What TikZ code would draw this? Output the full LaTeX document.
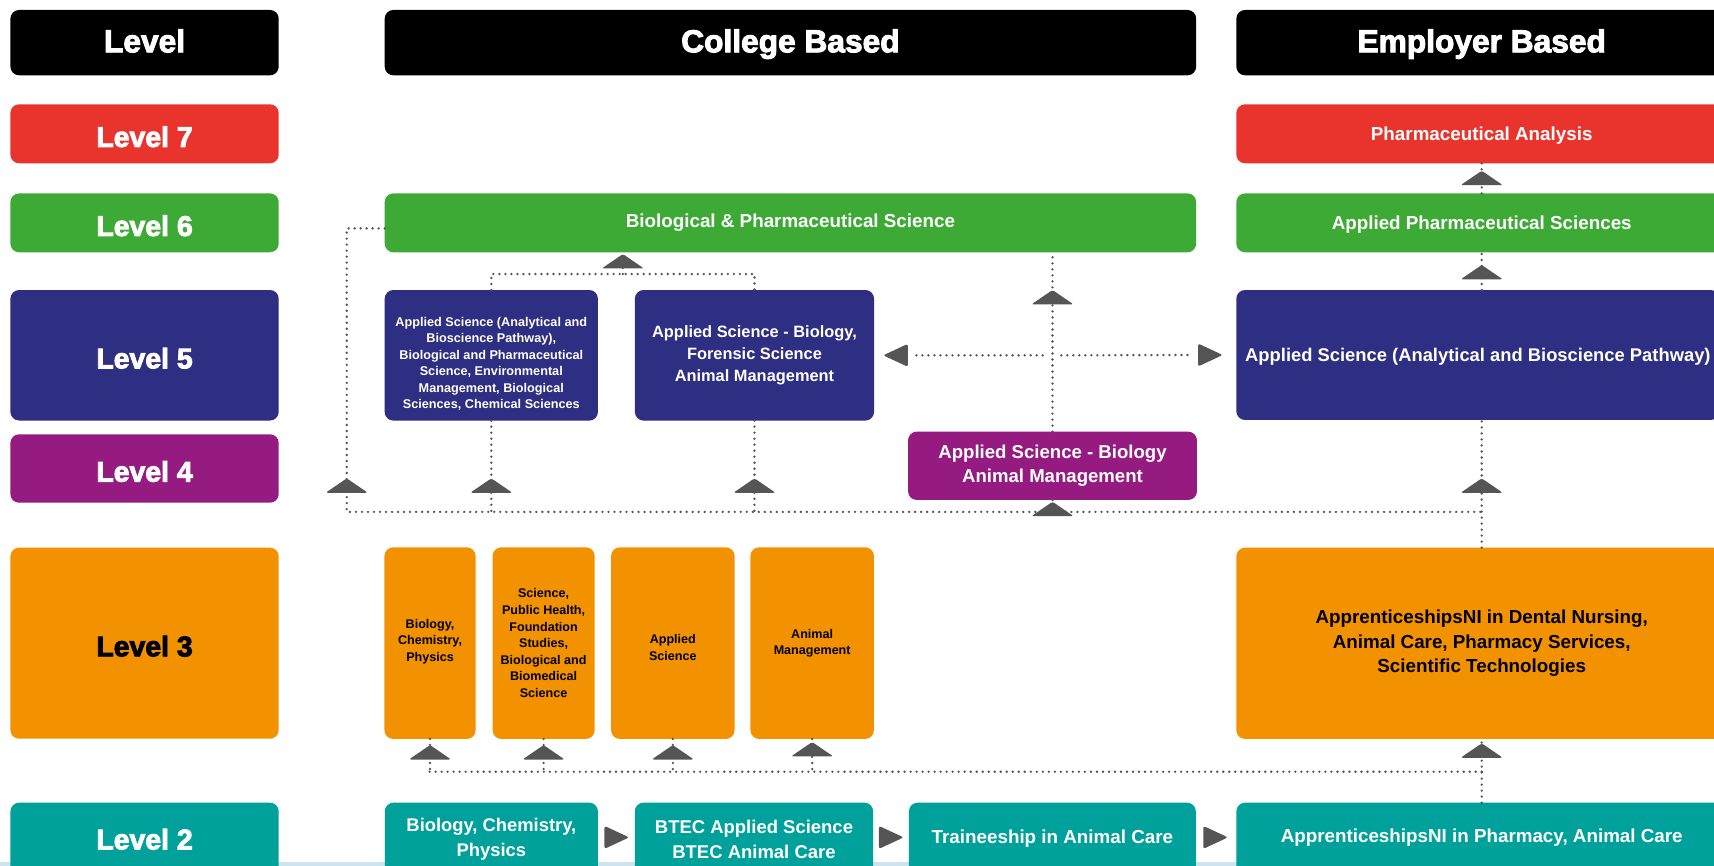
\documentclass[tikz,border=0pt]{standalone}
\usepackage{fontspec}
\setmainfont{Liberation Sans}
\newfontfamily\heavy{Liberation Sans Bold}[FakeBold=3]
\usetikzlibrary{calc}
\definecolor{cred}{HTML}{E8342C}
\definecolor{cgreen}{HTML}{3DAA35}
\definecolor{cnavy}{HTML}{2E2E82}
\definecolor{cpurple}{HTML}{951B80}
\definecolor{corange}{HTML}{F29200}
\definecolor{cteal}{HTML}{00A19A}
\definecolor{cstrip}{HTML}{CBE4EF}
\definecolor{cgray}{HTML}{555555}
\newcommand\Bx[7]{\node[box,#6,minimum width={(#4)-(#2)},minimum height={(#5)-(#3)}] (#1) at ({((#2)+(#4))/2},{((#3)+(#5))/2}) {#7};}
\begin{document}
\begin{tikzpicture}[x=1pt,y=-1pt,
  box/.style={rounded corners=8pt, inner sep=0pt, outer sep=0pt, align=center, text=white, font=\bfseries\fontsize{17.2}{22.5}\selectfont},
  single/.style={text height=12.3pt, text depth=0pt},
  lvl/.style={box, font=\heavy\fontsize{26}{30}\selectfont, text height=24pt, text depth=0pt},
  hdr/.style={box, fill=black, font=\heavy\fontsize{29}{32}\selectfont, text height=17.6pt, text depth=0pt},
  otxt/.style={box, fill=corange, text=black, font=\bfseries\fontsize{11.5}{15.2}\selectfont},
  dotl/.style={draw=cgray, line width=2.4pt, line cap=round, dash pattern=on 0pt off 5.5pt},
  uph/.pic={\fill[cgray, rounded corners=2pt] (0,0) -- (19.3,13.2) -- (-19.3,13.2) -- cycle;},
  rgh/.pic={\fill[cgray, rounded corners=2pt] (0,0) -- (-22.5,-10.5) -- (-22.5,10.5) -- cycle;},
  lfh/.pic={\fill[cgray, rounded corners=2pt] (0,0) -- (22.5,-10.5) -- (22.5,10.5) -- cycle;}
]
\useasboundingbox (0,0) rectangle (1568,792);
\clip (0,0) rectangle (1568,792);
\fill[white] (0,0) rectangle (1568,792);
\fill[cstrip] (0,788.3) rectangle (1568,792);

% headers
\Bx{hL}{9.5}{9.1}{255}{68.9}{hdr}{Level}
\Bx{hC}{351.9}{9.1}{1094.3}{68.9}{hdr}{College Based}
\Bx{hE}{1131}{9.1}{1580}{68.9}{hdr}{Employer Based}

% level column
\Bx{l7}{9.5}{95.4}{255}{149.4}{lvl,fill=cred}{Level 7}
\Bx{l6}{9.5}{176.9}{255}{230.8}{lvl,fill=cgreen}{Level 6}
\Bx{l5}{9.5}{265.3}{255}{384.7}{lvl,fill=cnavy}{Level 5}
\Bx{l4}{9.5}{397.3}{255}{459.9}{lvl,fill=cpurple}{Level 4}
\Bx{l3}{9.5}{501}{255}{675.8}{lvl,fill=corange,text=black}{Level 3}
\Bx{l2}{9.5}{734.3}{255}{801}{lvl,fill=cteal,text height=18.8pt}{Level 2}

% employer column
\Bx{e7}{1131}{95.4}{1580}{149.4}{fill=cred,single}{Pharmaceutical Analysis}
\Bx{e6}{1131}{176.9}{1580}{230.8}{fill=cgreen,single}{Applied Pharmaceutical Sciences}
\Bx{e5}{1131}{265.3}{1573}{384.2}{fill=cnavy,single,font={\bfseries\fontsize{16.8}{22}\selectfont}}{Applied Science (Analytical and Bioscience Pathway)}
\Bx{e3}{1131}{501}{1580}{676}{fill=corange,text=black}{ApprenticeshipsNI in Dental Nursing,\\Animal Care, Pharmacy Services,\\Scientific Technologies}
\Bx{e2}{1131}{734.3}{1580}{801}{fill=cteal,single,text depth=5.5pt}{ApprenticeshipsNI in Pharmacy, Animal Care}

% college column
\Bx{c6}{351.9}{176.9}{1094.3}{230.8}{fill=cgreen,single,text depth=4pt}{Biological \& Pharmaceutical Science}
\Bx{c5a}{351.9}{265.3}{547}{384.8}{fill=cnavy}{}
\node[align=center, text=white, inner sep=0pt, font=\bfseries\fontsize{11.6}{15}\selectfont] (c5at) at ($(c5a.center)+(0,7.8)$) {Applied Science (Analytical and\\Bioscience Pathway),\\Biological and Pharmaceutical\\Science, Environmental\\Management, Biological\\Sciences, Chemical Sciences};
\Bx{c5b}{580.8}{265.3}{799.6}{384.8}{fill=cnavy,font={\bfseries\fontsize{15}{20.5}\selectfont}}{Applied Science - Biology,\\Forensic Science\\Animal Management}
\Bx{c4}{830.7}{394.9}{1095}{457.4}{fill=cpurple,font={\bfseries\fontsize{17}{22.5}\selectfont}}{Applied Science - Biology\\Animal Management}
\Bx{c3a}{351.7}{500.7}{435.1}{676}{otxt}{Biology,\\Chemistry,\\Physics\rule[-5pt]{0pt}{0pt}}
\Bx{c3b}{450.6}{500.7}{544}{676}{otxt}{Science,\\Public Health,\\Foundation\\Studies,\\Biological and\\Biomedical\\Science}
\Bx{c3c}{559}{500.7}{672}{676}{otxt}{\rule{0pt}{16.4pt}Applied\\Science}
\Bx{c3d}{686.5}{500.7}{799.5}{676}{otxt}{Animal\\Management}
\Bx{b2a}{352}{734.3}{547}{801}{fill=cteal,font={\bfseries\fontsize{16.8}{23}\selectfont}}{Biology, Chemistry,\\Physics}
\Bx{b2b}{580.7}{734.3}{798.8}{801}{fill=cteal,font={\bfseries\fontsize{16.9}{23}\selectfont}}{BTEC Applied Science\\BTEC Animal Care}
\Bx{b2c}{831.5}{734.3}{1094}{801}{fill=cteal,single,text depth=5.2pt}{Traineeship in Animal Care}

% coordinates
\coordinate (busL) at (317.2,468.3);
\coordinate (busR) at (e3.north |- busL);
\coordinate (jm) at ($($(c5a.north)!0.5!(c5b.north)$)+(0,-14.6)$);
\coordinate (hm) at (c4.north |- c5b.east);
\coordinate (b2r) at ($(e3.south)+(0,30)$);
\coordinate (b2l) at ($(c3a.south |- b2r)+(-2,0)$);

% dotted connectors
\draw[dotl] ($(c6.west)+(0,5.1)$) -| (busL) -- (busR);
\draw[dotl] (c5a.south) -- (c5a.south |- busL);
\draw[dotl] (c5b.south) -- (c5b.south |- busL);
\draw[dotl] (c4.south) -- (c4.south |- busL);
\draw[dotl] (e3.north) -- (e3.north |- e5.south);
\draw[dotl] (e6.south |- e5.north) -- (e6.south);
\draw[dotl] (e6.north) -- (e7.south);
\draw[dotl] (c4.north) -- (c4.north |- c6.south);
\draw[dotl] (c5a.north) -- ($(c5a.north)+(0,-14.6)$) -| (c5b.north);
\draw[dotl] (jm) -- (jm |- c6.south);
\draw[dotl] ($(hm)+(-9,0)$) -- ($(c5b.east)+(34.4,0)$);
\draw[dotl] ($(hm)+(8,0)$) -- ($(e5.west)+(-40,0)$);
\draw[dotl] (e2.north) -- (e3.south);
\draw[dotl] (b2r) -- (b2l);
\draw[dotl] (c3a.south) -- (c3a.south |- b2r);
\draw[dotl] (c3b.south) -- (c3b.south |- b2r);
\draw[dotl] (c3c.south) -- (c3c.south |- b2r);
\draw[dotl] (c3d.south) -- (c3d.south |- b2r);

% arrowheads
\pic at ($(busL)+(0,-30.7)$) {uph};
\pic at ($(c5a.south |- busL)+(0,-30.7)$) {uph};
\pic at ($(c5b.south |- busL)+(0,-30.7)$) {uph};
\pic at ($(busR)+(0,-30.7)$) {uph};
\pic at ($(c4.south)+(0,1.6)$) {uph};
\pic at (c4.north |- c5b.north) {uph};
\pic at ($(jm |- c6.south)+(0,1.6)$) {uph};
\pic at ($(e6.south)+(0,11.6)$) {uph};
\pic at ($(e7.south)+(0,6.8)$) {uph};
\pic at ($(c3a.south)+(0,5.6)$) {uph};
\pic at ($(c3b.south)+(0,5.6)$) {uph};
\pic at ($(c3c.south)+(0,5.6)$) {uph};
\pic at ($(c3d.south)+(0,2.8)$) {uph};
\pic at ($(e3.south)+(0,4)$) {uph};
\pic at ($(c5b.east)+(8.4,0)$) {lfh};
\pic at ($(e5.west)+(-12.5,0)$) {rgh};
\pic at ($(b2b.west)+(-5.2,-1.6)$) {rgh};
\pic at ($(b2c.west)+(-4.9,-1.6)$) {rgh};
\pic at ($(e2.west)+(-7.7,-1.6)$) {rgh};
\end{tikzpicture}
\end{document}
